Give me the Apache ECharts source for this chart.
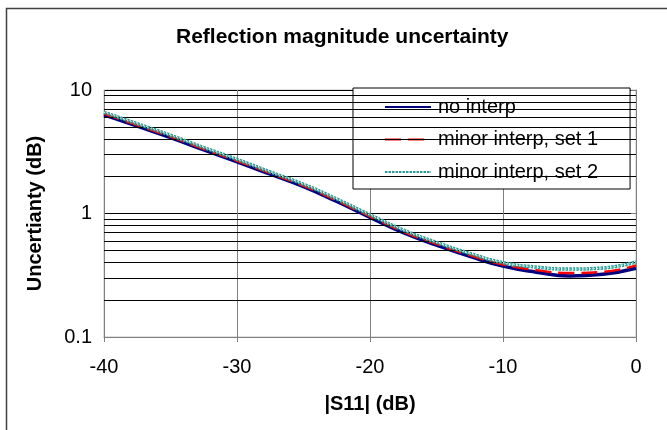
<!DOCTYPE html>
<html>
<head>
<meta charset="utf-8">
<script src="https://cdn.jsdelivr.net/npm/echarts@6/dist/echarts.min.js"></script>
<style>
  html, body { margin: 0; padding: 0; background: #fff; }
  #chart { width: 667px; height: 430px; }
</style>
</head>
<body>
<div id="chart"></div>
<script>
// |S11| sweep in dB
const s11 = [-40, -37.5, -35, -32.5, -30, -27.5, -25, -22.5, -20, -17.5, -15, -12.5, -10, -7.5, -5, -2.5, 0];

// Uncertainty (dB) for each model
const noInterp = [6.3, 5.1, 4.12, 3.27, 2.62, 2.08, 1.65, 1.25, 0.93, 0.70, 0.555, 0.45, 0.375, 0.335, 0.312, 0.322, 0.36];
const minorSet1 = [6.43, 5.2, 4.2, 3.34, 2.67, 2.12, 1.68, 1.275, 0.95, 0.715, 0.567, 0.461, 0.387, 0.348, 0.33, 0.337, 0.38];
const minorSet2 = [6.6, 5.33, 4.3, 3.42, 2.74, 2.17, 1.725, 1.31, 0.975, 0.735, 0.583, 0.475, 0.40, 0.368, 0.355, 0.362, 0.405];

const seriesNames = ['no interp', 'minor interp, set 1', 'minor interp, set 2'];

// Log-axis gridlines between the decades
const minorGrid = [0.2, 0.3, 0.4, 0.5, 0.6, 0.7, 0.8, 0.9, 2, 3, 4, 5, 6, 7, 8, 9];

const FONT = '"Liberation Sans", Arial, sans-serif';
const pairs = ys => s11.map((x, i) => [x, ys[i]]);

const chart = echarts.init(document.getElementById('chart'), null, { renderer: 'canvas' });

chart.setOption({
  backgroundColor: '#fff',
  animation: false,
  textStyle: { fontFamily: FONT, color: '#000' },
  title: {
    text: 'Reflection magnitude uncertainty',
    left: 176,
    top: 27,
    padding: 0,
    textStyle: { fontFamily: FONT, fontSize: 21, fontWeight: 'bold', color: '#000' }
  },
  graphic: [{
    type: 'rect',
    shape: { x: 6.5, y: 8.5, width: 700, height: 500 },
    style: { fill: null, stroke: '#404040', lineWidth: 1.5 },
    silent: true,
    z: 0
  }],
  grid: {
    left: 104, right: 31, top: 90, bottom: 93,
    show: true, borderColor: '#c0c0c0', borderWidth: 1, backgroundColor: '#fff'
  },
  legend: {
    data: seriesNames,
    orient: 'vertical',
    left: 353, top: 88,
    padding: [9, 32, 7, 31],
    itemGap: 12.5,
    itemWidth: 46, itemHeight: 14,
    itemStyle: { opacity: 0 },
    backgroundColor: '#fff',
    borderColor: '#000', borderWidth: 1, borderRadius: 0,
    textStyle: { fontFamily: FONT, fontSize: 20, color: '#000', padding: [0, 0, 0, 2] }
  },
  xAxis: {
    type: 'value',
    min: -40, max: 0, interval: 10,
    name: '|S11| (dB)',
    nameLocation: 'middle',
    nameGap: 57,
    nameTextStyle: { fontFamily: FONT, fontSize: 20, fontWeight: 'bold', color: '#000' },
    axisLine: { show: true, lineStyle: { color: '#808080', width: 1 } },
    axisTick: { show: true, length: 5, lineStyle: { color: '#808080' } },
    axisLabel: { fontFamily: FONT, fontSize: 20, color: '#000', margin: 20 },
    splitLine: { show: true, lineStyle: { color: '#808080', width: 1 } }
  },
  yAxis: {
    type: 'log',
    logBase: 10,
    min: 0.1, max: 10,
    name: 'Uncertianty (dB)',
    nameLocation: 'middle',
    nameGap: 59,
    nameTextStyle: { fontFamily: FONT, fontSize: 20, fontWeight: 'bold', color: '#000' },
    axisLine: { show: true, lineStyle: { color: '#808080', width: 1 } },
    axisTick: { show: true, length: 5, lineStyle: { color: '#808080' } },
    axisLabel: { fontFamily: FONT, fontSize: 20, color: '#000', margin: 12 },
    splitLine: { show: true, lineStyle: { color: '#000', width: 1 } }
  },
  series: [
    {
      // minor gridlines of the log axis
      type: 'line',
      name: 'grid',
      data: [],
      silent: true,
      z: 1,
      markLine: {
        silent: true,
        symbol: 'none',
        label: { show: false },
        lineStyle: { color: '#000', width: 1, type: 'solid' },
        data: minorGrid.map(v => ({ yAxis: v }))
      }
    },
    {
      type: 'line',
      name: seriesNames[0],
      data: pairs(noInterp),
      smooth: true,
      symbol: 'none',
      z: 3,
      lineStyle: { color: '#000080', width: 3.5 },
      itemStyle: { color: '#000080' }
    },
    {
      type: 'line',
      name: seriesNames[1],
      data: pairs(minorSet1),
      smooth: true,
      symbol: 'none',
      z: 4,
      lineStyle: { color: '#ff0000', width: 2.5, type: [16, 7] },
      itemStyle: { color: '#ff0000' }
    },
    {
      type: 'line',
      name: seriesNames[2],
      data: pairs(minorSet2),
      smooth: true,
      symbol: 'none',
      z: 5,
      lineStyle: { color: '#2a9d95', width: 3.5, type: [2.5, 1] },
      itemStyle: { color: '#2a9d95' }
    },
    {
      // light centres of the square-dot pattern
      type: 'line',
      name: seriesNames[2],
      data: pairs(minorSet2),
      smooth: true,
      symbol: 'none',
      z: 6,
      lineStyle: { color: '#c9ebe8', width: 1.2, type: [1.2, 2.3] },
      itemStyle: { color: '#2a9d95' }
    }
  ]
});
</script>
</body>
</html>
